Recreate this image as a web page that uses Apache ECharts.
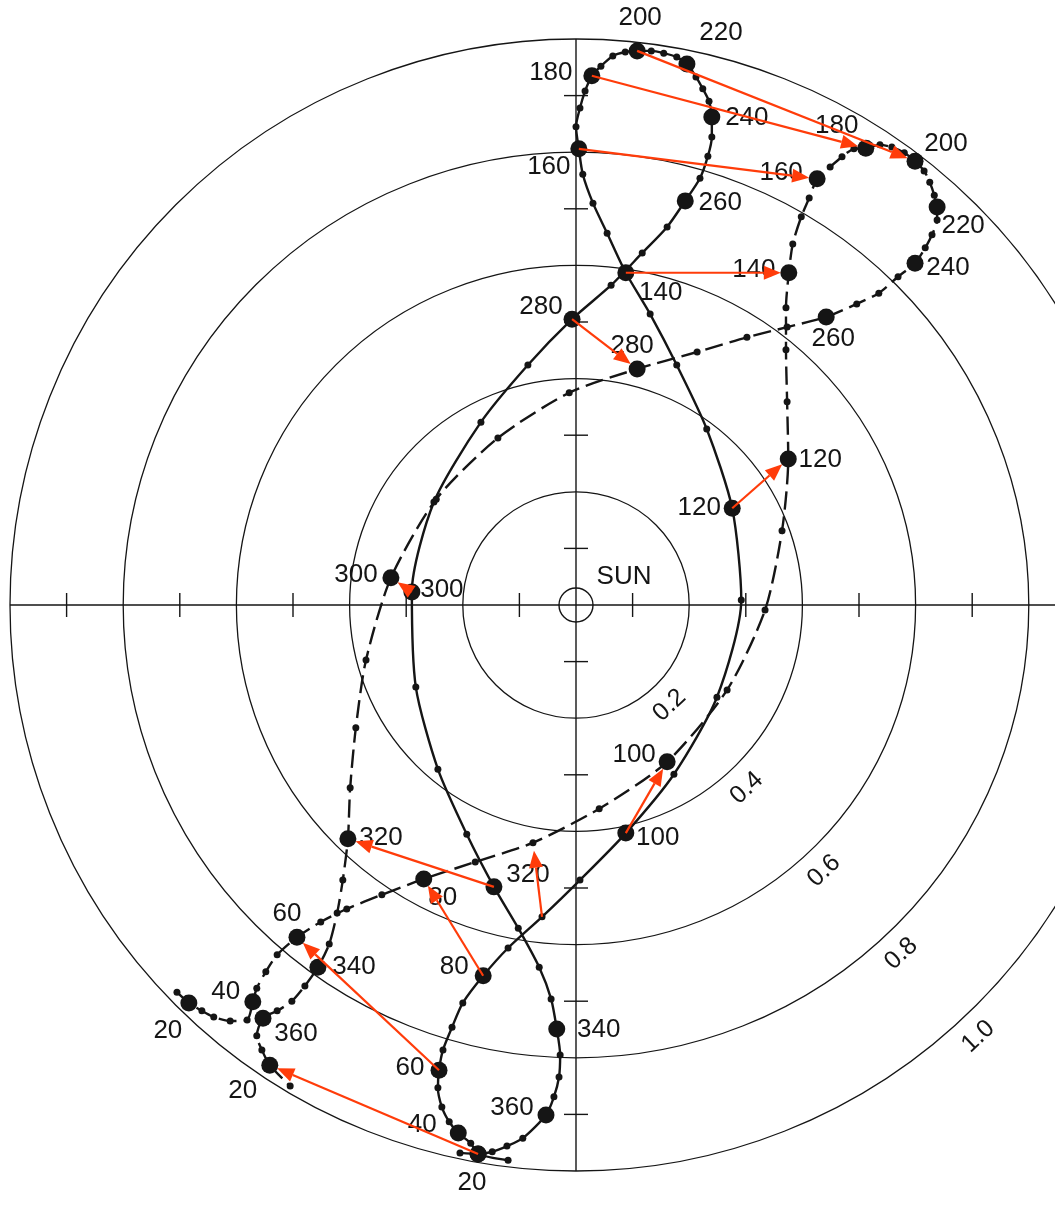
<!DOCTYPE html>
<html><head><meta charset="utf-8">
<script src="https://cdn.jsdelivr.net/npm/echarts@6/dist/echarts.min.js"></script>
<style>html,body{margin:0;padding:0;background:#fff}#chart{width:1055px;height:1228px}</style>
</head><body><div id="chart"></div>
<script>
// Distance rings (AU) and their labels
const ringRadii = [0.2, 0.4, 0.6, 0.8, 1.0];
const ringLabels = ['0.2', '0.4', '0.6', '0.8', '1.0'];
// Axis tick positions (AU) and axis extent
const axisTicks = [0.1, 0.3, 0.5, 0.7, 0.9];
const axisExtent = [1.0];
// Sun marker position and name
const sunPos = [[0, 0]];
const sunName = 'SUN';

// Solid track: day numbers (second pass > 365) and heliocentric x, y (AU)
const solidDays = [10,20,30,40,45,50,55,60,65,70,75,80,85,90,95,100,105,110,115,120,125,130,135,140,145,150,155,160,165,170,175,180,185,190,195,200,205,210,215,220,225,230,235,240,245,250,255,260,265,270,275,280,285,290,295,300,305,310,315,320,325,330,335,340,345,350,355,360,370,375,380,385,390];
const solidX = [-0.120,-0.173,-0.186,-0.208,-0.224,-0.237,-0.244,-0.242,-0.235,-0.219,-0.200,-0.164,-0.120,-0.060,0.007,0.088,0.173,0.249,0.292,0.276,0.231,0.178,0.131,0.088,0.055,0.030,0.012,0.005,0.000,0.007,0.016,0.028,0.044,0.065,0.087,0.108,0.133,0.155,0.178,0.196,0.212,0.224,0.235,0.240,0.240,0.233,0.219,0.193,0.161,0.117,0.062,-0.007,-0.085,-0.168,-0.251,-0.290,-0.283,-0.244,-0.193,-0.145,-0.102,-0.065,-0.044,-0.034,-0.028,-0.030,-0.039,-0.053,-0.094,-0.122,-0.148,-0.173,-0.205];
const solidY = [-0.981,-0.970,-0.951,-0.933,-0.913,-0.887,-0.853,-0.822,-0.786,-0.746,-0.703,-0.655,-0.606,-0.551,-0.486,-0.403,-0.299,-0.163,0.009,0.171,0.311,0.424,0.514,0.587,0.657,0.710,0.761,0.806,0.845,0.878,0.908,0.935,0.952,0.970,0.977,0.979,0.979,0.975,0.968,0.956,0.933,0.912,0.890,0.862,0.827,0.793,0.754,0.714,0.668,0.622,0.565,0.505,0.424,0.323,0.182,0.023,-0.145,-0.290,-0.405,-0.498,-0.571,-0.640,-0.696,-0.749,-0.795,-0.834,-0.869,-0.901,-0.942,-0.956,-0.966,-0.970,-0.968];

// Dashed track
const dashedDays = [15,20,24,28,32,36,40,45,50,55,60,65,70,75,80,85,90,95,100,105,110,115,120,125,130,135,140,145,150,155,160,165,170,175,180,185,190,195,200,205,210,215,220,225,230,235,240,245,250,255,260,265,270,275,280,285,290,295,300,305,310,315,320,325,330,335,340,345,350,355,360,370,375,385,390];
const dashedX = [-0.705,-0.684,-0.661,-0.640,-0.611,-0.581,-0.571,-0.564,-0.548,-0.528,-0.493,-0.451,-0.405,-0.343,-0.269,-0.178,-0.076,0.041,0.161,0.267,0.334,0.364,0.375,0.373,0.371,0.371,0.376,0.383,0.398,0.412,0.426,0.449,0.470,0.491,0.512,0.537,0.558,0.580,0.599,0.615,0.625,0.633,0.638,0.638,0.629,0.617,0.599,0.569,0.535,0.496,0.442,0.373,0.302,0.214,0.108,-0.012,-0.138,-0.247,-0.327,-0.371,-0.389,-0.399,-0.403,-0.412,-0.422,-0.436,-0.456,-0.479,-0.502,-0.528,-0.553,-0.564,-0.555,-0.541,-0.505];
const dashedY = [-0.684,-0.703,-0.717,-0.728,-0.735,-0.733,-0.701,-0.677,-0.648,-0.618,-0.587,-0.560,-0.537,-0.512,-0.484,-0.454,-0.420,-0.360,-0.277,-0.150,-0.009,0.131,0.258,0.359,0.451,0.525,0.587,0.638,0.686,0.719,0.753,0.774,0.792,0.806,0.807,0.813,0.809,0.799,0.784,0.767,0.747,0.724,0.703,0.680,0.654,0.631,0.604,0.580,0.551,0.532,0.509,0.491,0.473,0.447,0.417,0.375,0.295,0.187,0.048,-0.097,-0.217,-0.323,-0.413,-0.486,-0.544,-0.599,-0.640,-0.673,-0.700,-0.717,-0.730,-0.761,-0.786,-0.813,-0.850];

// Red arrows: from solid-track day to dashed-track day
const arrowFromDays = [20,60,80,90,100,120,140,160,180,200,280,300,320];
const arrowToDays   = [385,60,80,90,100,120,140,160,180,200,280,300,320];

// ---- styling (label placement offsets in px) ----
const solidLabelOffset = {20:[-6,29],40:[-36,-8],60:[-29,-2],80:[-29,-9],100:[32,5],120:[-33,0],140:[35,20],160:[-30,18],180:[-41,-3],200:[3,-33],220:[34,-31],240:[35,1],260:[35,2],280:[-31,-12],300:[30,-2],320:[34,-12],340:[42,1],360:[-34,-7]};
const dashedLabelOffset = {20:[-21,28],40:[-27,-10],60:[-10,-23],80:[19,19],100:[-33,-7],120:[32,1],140:[-35,-3],160:[-36,-6],180:[-29,-22],200:[31,-17],220:[26,19],240:[33,5],260:[7,22],280:[-5,-23],300:[-35,-3],320:[33,-1],340:[36,0],360:[33,16],385:[-27,26]};

const FONT = 'Liberation Sans, Arial, sans-serif';
const INK = '#151515';
const RED = '#ff3c0a';
const LABEL_SIZE = 26;

function buildTrack(days, xs, ys, offsets) {
  return days.map((d, i) => {
    const dd = d % 365;
    const big = dd % 20 === 0;
    const off = offsets[d];
    return {
      value: [xs[i], ys[i], d],
      symbolSize: big ? 17 : 7,
      label: off ? {show: true, formatter: String(dd), position: 'inside', offset: off} : {show: false}
    };
  });
}
function findPoint(days, xs, ys, d) {
  const i = days.indexOf(d);
  return [xs[i], ys[i]];
}

const chart = echarts.init(document.getElementById('chart'), null, {renderer: 'canvas'});
const S = 566; // px per AU
const option = {
  animation: false,
  backgroundColor: '#fff',
  grid: {left: 0, right: 0, top: 0, bottom: 0},
  xAxis: {type: 'value', min: -576 / S, max: 479 / S, show: false},
  yAxis: {type: 'value', min: -623 / S, max: 605 / S, show: false},
  series: [
    { // rings with their labels
      type: 'custom', coordinateSystem: 'cartesian2d', silent: true, z: 1, clip: false,
      data: ringRadii.map((r, i) => [r, i]),
      renderItem(params, api) {
        const r = api.value(0);
        const c = api.coord([0, 0]);
        const rp = api.size([r, 0])[0];
        const ang = 47 * Math.PI / 180;
        const lr = rp + 24;
        return {type: 'group', children: [
          {type: 'circle', shape: {cx: c[0], cy: c[1], r: rp}, style: {fill: 'none', stroke: INK, lineWidth: 1.3}},
          {type: 'text', x: c[0] + lr * Math.cos(ang), y: c[1] + lr * Math.sin(ang), rotation: 43 * Math.PI / 180,
           style: {text: ringLabels[api.value(1)], fill: INK, font: '25px ' + FONT, align: 'center', verticalAlign: 'middle'}}
        ]};
      }
    },
    { // axis lines
      type: 'custom', coordinateSystem: 'cartesian2d', silent: true, z: 1, clip: false,
      data: axisExtent.map(v => [v]),
      renderItem(params, api) {
        const e = api.value(0);
        const a = api.coord([-e, 0]), b = api.coord([e, 0]);
        const c = api.coord([0, e]), d = api.coord([0, -e]);
        const st = {stroke: INK, lineWidth: 1.4};
        return {type: 'group', children: [
          {type: 'line', shape: {x1: a[0], y1: a[1], x2: b[0], y2: b[1]}, style: st},
          {type: 'line', shape: {x1: c[0], y1: c[1], x2: d[0], y2: d[1]}, style: st}
        ]};
      }
    },
    { // axis ticks
      type: 'custom', coordinateSystem: 'cartesian2d', silent: true, z: 1, clip: false,
      data: axisTicks.map(v => [v]),
      renderItem(params, api) {
        const t = api.value(0);
        const h = 12;
        const st = {stroke: INK, lineWidth: 1.4};
        const kids = [];
        [[t, 0], [-t, 0]].forEach(p => { const q = api.coord(p); kids.push({type: 'line', shape: {x1: q[0], y1: q[1] - h, x2: q[0], y2: q[1] + h}, style: st}); });
        [[0, t], [0, -t]].forEach(p => { const q = api.coord(p); kids.push({type: 'line', shape: {x1: q[0] - h, y1: q[1], x2: q[0] + h, y2: q[1]}, style: st}); });
        return {type: 'group', children: kids};
      }
    },
    { // Sun
      type: 'custom', coordinateSystem: 'cartesian2d', silent: true, z: 2, clip: false,
      data: sunPos,
      renderItem(params, api) {
        const c = api.coord([api.value(0), api.value(1)]);
        return {type: 'group', children: [
          {type: 'circle', shape: {cx: c[0], cy: c[1], r: 17}, style: {fill: 'none', stroke: INK, lineWidth: 1.4}},
          {type: 'text', x: c[0] + 48, y: c[1] - 28, style: {text: sunName, fill: INK, font: '26px ' + FONT, align: 'center', verticalAlign: 'middle'}}
        ]};
      }
    },
    { // solid track
      type: 'line', z: 3, silent: true, smooth: 0.25, showAllSymbol: true,
      symbol: 'circle',
      data: buildTrack(solidDays, solidX, solidY, solidLabelOffset),
      lineStyle: {color: INK, width: 2.4},
      itemStyle: {color: INK, borderWidth: 0},
      label: {color: INK, fontSize: LABEL_SIZE, fontFamily: FONT},
      emphasis: {disabled: true}
    },
    { // dashed track
      type: 'line', z: 3, silent: true, smooth: 0.25, showAllSymbol: true,
      symbol: 'circle',
      data: buildTrack(dashedDays, dashedX, dashedY, dashedLabelOffset),
      lineStyle: {color: INK, width: 2.4, type: [18, 7]},
      itemStyle: {color: INK, borderWidth: 0},
      label: {color: INK, fontSize: LABEL_SIZE, fontFamily: FONT},
      emphasis: {disabled: true}
    },
    { // red arrows
      type: 'custom', coordinateSystem: 'cartesian2d', silent: true, z: 5, clip: false,
      data: arrowFromDays.map((d, i) => [i]),
      renderItem(params, api) {
        const i = params.dataIndex;
        const p0 = api.coord(findPoint(solidDays, solidX, solidY, arrowFromDays[i]));
        const p1 = api.coord(findPoint(dashedDays, dashedX, dashedY, arrowToDays[i]));
        const dx = p1[0] - p0[0], dy = p1[1] - p0[1];
        const L = Math.sqrt(dx * dx + dy * dy);
        const ux = dx / L, uy = dy / L;
        const nx = -uy, ny = ux;
        const tip = [p1[0] - ux * 8, p1[1] - uy * 8];
        const base = [tip[0] - ux * 17, tip[1] - uy * 17];
        return {type: 'group', children: [
          {type: 'line', shape: {x1: p0[0], y1: p0[1], x2: base[0], y2: base[1]}, style: {stroke: RED, lineWidth: 2.2}},
          {type: 'polygon', shape: {points: [tip, [base[0] + nx * 7, base[1] + ny * 7], [base[0] - nx * 7, base[1] - ny * 7]]}, style: {fill: RED}}
        ]};
      }
    }
  ]
};
chart.setOption(option);
</script>
</body></html>
